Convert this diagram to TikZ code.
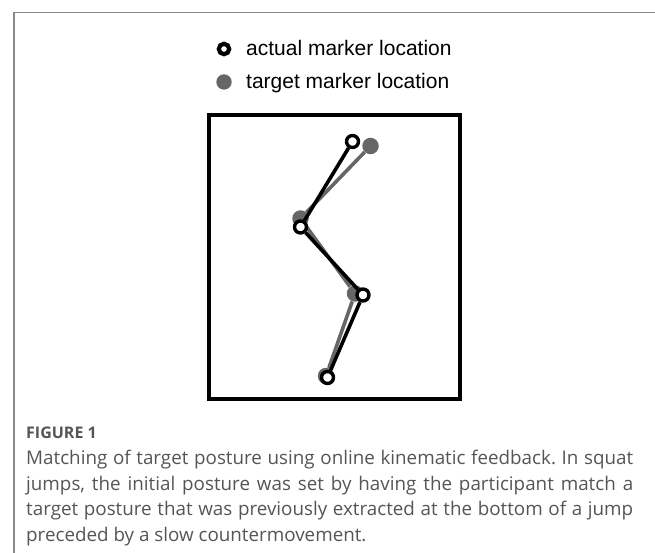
\documentclass[tikz,border=0pt]{standalone}
\usepackage{fontspec}
\setmainfont{Liberation Sans}
\newfontfamily\capfont{Open Sans}
\usepackage{tikz}
\usetikzlibrary{positioning}
\usepackage{xcolor}
\definecolor{tgtgray}{RGB}{102,102,102}
\definecolor{framegray}{RGB}{136,136,136}
\definecolor{captext}{RGB}{85,85,85}

\begin{document}
\begin{tikzpicture}[x=1pt,y=-1pt,
  actual/.style={circle,draw=black,fill=white,line width=3.4pt,minimum size=12pt,inner sep=0pt},
  target/.style={circle,fill=tgtgray,minimum size=16.5pt,inner sep=0pt},
  seg/.style={line width=3.6pt},
  tseg/.style={line width=3.6pt,draw=tgtgray},
  keytext/.style={anchor=base west,inner sep=0pt,font=\fontsize{21}{25}\selectfont}]
\useasboundingbox (0,0) rectangle (655,553);
\draw[framegray,line width=1.5pt] (655,12.5) -- (14,12.5) -- (14,553);
% legend
\node[actual,line width=4.2pt,minimum size=10.4pt] (keyA) at (224,49) {};
\node[target,minimum size=15.4pt] (keyT) at (224,82) {};
\node[keytext] (keyAtext) at (246,56) {actual marker location};
\node[keytext] (keyTtext) at (246,88.5) {target marker location};
% panel
\draw[line width=3.2pt] (209,115) rectangle (460,399);
\node[target] (t1) at (370.5,146) {};
\node[target] (t2) at (300.5,218.5) {};
\node[target] (t3) at (355,293.5) {};
\node[target] (t4) at (326,376) {};
\draw[tseg] (t1) -- (t2) -- (t3) -- (t4);
\node[actual] (a1) at (352.5,141.5) {};
\node[actual] (a2) at (300.5,227) {};
\node[actual] (a3) at (363,295) {};
\node[actual] (a4) at (327.5,377.5) {};
\draw[seg] (a1) -- (a2) -- (a3) -- (a4);
% caption
\node[anchor=west,inner sep=0pt,text=captext,font=\capfont\bfseries\fontsize{16}{18}\selectfont] (figlabel) at (26,433) {FIGURE 1};
\node[anchor=north west,inner sep=0pt,text width=607pt,align=justify,text=captext,font=\capfont\fontsize{18.8}{25.7}\selectfont\frenchspacing] (caption) at (26,450)
  {Matching of target posture using online kinematic feedback. In squat\linebreak
   jumps, the initial posture was set by having the participant match a\linebreak
   target posture that was previously extracted at the bottom of a jump\linebreak
   preceded by a slow countermovement.};
\end{tikzpicture}
\end{document}
